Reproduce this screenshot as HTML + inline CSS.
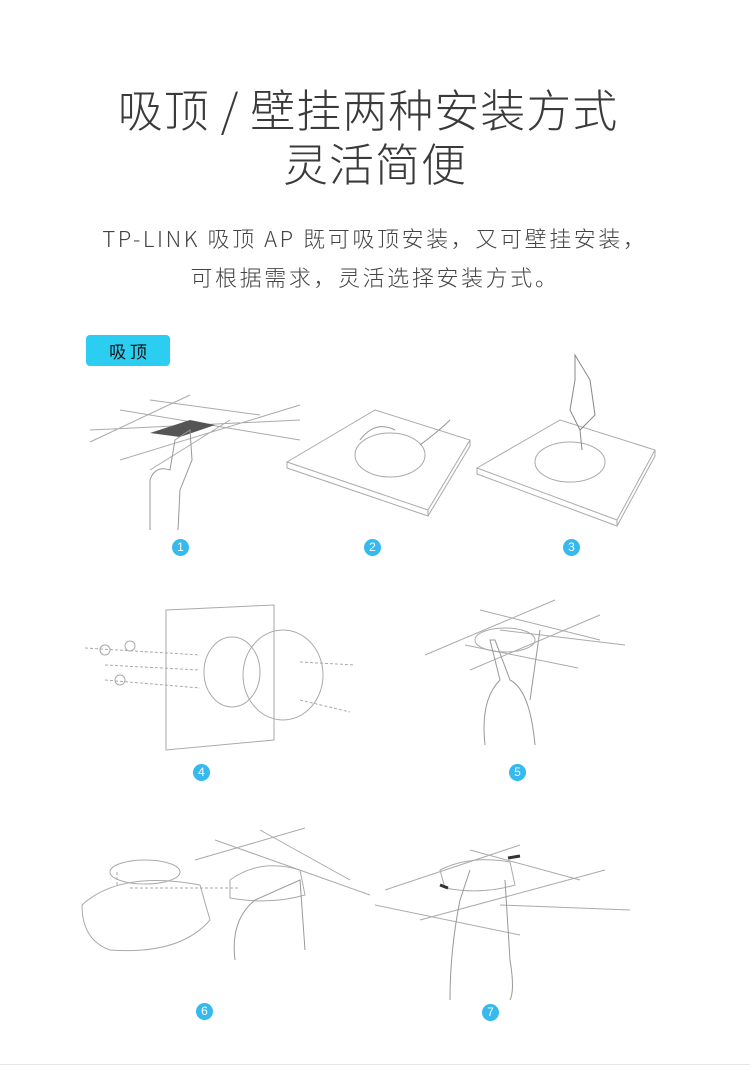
<!DOCTYPE html>
<html><head><meta charset="utf-8"><style>
body{margin:0;width:750px;height:1070px;background:#fff;position:relative;overflow:hidden;font-family:"Noto Sans CJK SC","Liberation Sans",sans-serif}
.t{position:absolute;left:0;width:750px;text-align:center;color:#333;white-space:nowrap}
.n{position:absolute;width:17px;height:17px;border-radius:50%;background:#35b9ee;color:#fff;font-size:12px;line-height:17px;text-align:center;font-family:"Liberation Sans",sans-serif}
svg{position:absolute;left:0;top:0}
</style></head><body>
<div class="t" style="top:80px;font-size:45px;line-height:56px;font-weight:300;color:#3a3a3a;letter-spacing:1px;padding-right:14px;box-sizing:border-box">吸顶 / 壁挂两种安装方式</div>
<div class="t" style="top:134px;font-size:45px;line-height:56px;font-weight:300;color:#3a3a3a;letter-spacing:1px">灵活简便</div>
<div class="t" style="top:222px;font-size:22px;line-height:32px;color:#444;font-weight:300;letter-spacing:2.6px">TP-LINK 吸顶 AP 既可吸顶安装，又可壁挂安装，</div>
<div class="t" style="top:261px;font-size:22px;line-height:32px;color:#444;font-weight:300;letter-spacing:2.6px">可根据需求，灵活选择安装方式。</div>
<div style="position:absolute;left:86px;top:335px;width:84px;height:31px;background:#2bcdf0;border-radius:4px;color:#111;font-size:17px;line-height:31px;text-align:center">吸 顶</div>
<div class="n" style="left:172px;top:539px">1</div>
<div class="n" style="left:364px;top:539px">2</div>
<div class="n" style="left:563px;top:539px">3</div>
<div class="n" style="left:193px;top:764px">4</div>
<div class="n" style="left:509px;top:764px">5</div>
<div class="n" style="left:196px;top:1003px">6</div>
<div class="n" style="left:482px;top:1004px">7</div>
<svg width="750" height="1070" fill="none" stroke="#aaa" stroke-width="1">
<path d="M90 430 L300 420 M90 442 L190 395 M120 460 L300 405 M150 470 L230 420 M120 410 L300 440 M150 400 L260 415"/>
<polygon points="150,433 190,420 215,425 180,437" fill="#555" stroke="none"/>
<path d="M150 530 L150 480 Q155 465 170 470 L175 440 L190 430 L192 460 L180 490 L178 530" stroke="#999"/>
<path d="M287 462 L375 410 L470 440 L428 510 Z M287 462 L287 468 L428 516 L428 510 M470 440 L470 446 L428 516"/>
<ellipse cx="390" cy="455" rx="35" ry="22"/>
<path d="M360 440 Q375 420 395 430 M420 445 Q440 430 450 420" stroke="#999"/>
<path d="M477 468 L560 420 L655 450 L617 520 Z M477 468 L477 474 L617 526 L617 520 M655 450 L655 456 L617 526"/>
<ellipse cx="570" cy="462" rx="35" ry="20"/>
<path d="M575 355 L590 380 L595 415 L580 430 L570 410 L575 380 Z M580 430 L582 450" stroke="#888"/>
<path d="M166 610 L274 605 L274 740 L166 750 Z"/>
<ellipse cx="232" cy="672" rx="28" ry="35"/>
<ellipse cx="283" cy="675" rx="40" ry="45"/>
<path d="M85 648 L200 655 M105 665 L200 670 M105 680 L200 688 M300 662 L355 665 M300 700 L350 712" stroke-dasharray="3 2"/>
<circle cx="105" cy="650" r="5"/><circle cx="120" cy="680" r="5"/><circle cx="130" cy="646" r="5"/>
<path d="M425 655 L555 600 M470 670 L600 615 M480 610 L600 640 M465 645 L578 668 M500 630 L625 645"/>
<ellipse cx="505" cy="640" rx="30" ry="12"/>
<path d="M485 745 Q480 700 500 680 L490 640 L495 640 L510 680 Q530 690 535 745 M530 700 L540 630" stroke="#999"/>
<path d="M195 860 L305 828 M215 840 L370 895 M260 830 L350 880"/>
<path d="M82 905 Q120 870 200 885 L210 920 Q180 955 110 950 Q82 940 82 905 Z"/>
<ellipse cx="145" cy="872" rx="35" ry="12"/>
<path d="M117 885 L117 870 M130 888 L240 888" stroke-dasharray="3 2"/>
<path d="M230 880 Q260 858 300 870 L305 895 Q270 905 230 898 Z"/>
<path d="M235 960 Q230 920 255 900 L300 880 L305 950" stroke="#999"/>
<path d="M385 890 L520 845 M375 905 L520 935 M420 920 L605 870 M500 905 L630 910 M470 850 L580 880"/>
<path d="M440 870 Q470 855 510 862 L515 885 Q480 895 445 888 Z"/>
<path d="M450 1000 Q450 950 460 900 L470 870 M505 880 L510 960 Q515 990 510 1000" stroke="#999"/>
<path d="M508 858 L520 856 M440 885 L448 888" stroke="#333" stroke-width="3"/>
</svg>
<div style="position:absolute;left:0;top:1064px;width:750px;height:1px;background:#e5e5e5"></div>
</body></html>
